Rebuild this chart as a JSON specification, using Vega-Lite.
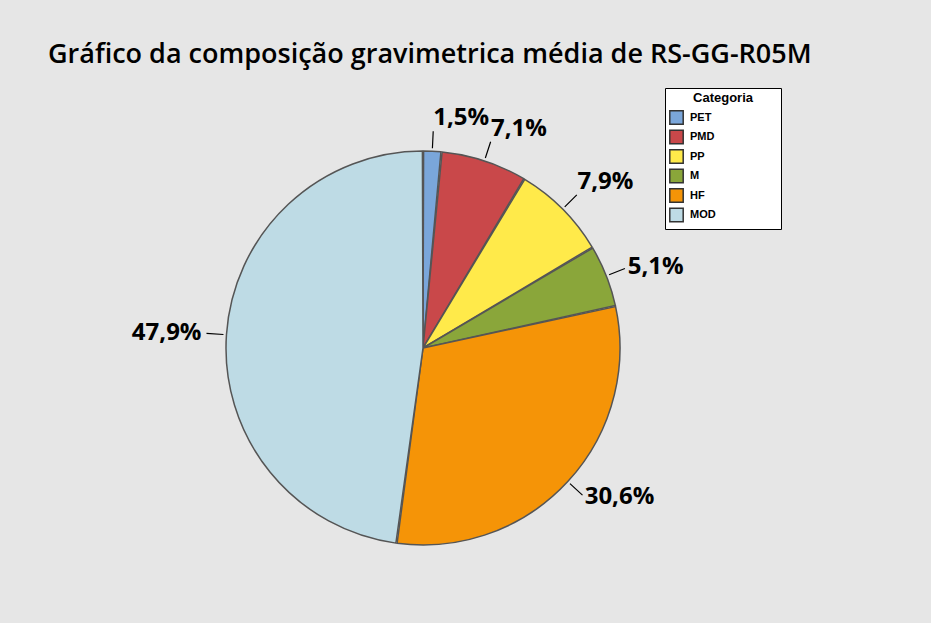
{
  "$schema": "https://vega.github.io/schema/vega-lite/v6.json",
  "width": 500,
  "height": 500,
  "autosize": {"type": "none"},
  "padding": {"left": 173, "top": 98, "right": 258, "bottom": 25},
  "background": "#e6e6e6",
  "title": {
    "text": "Gráfico da composição gravimetrica média de RS-GG-R05M",
    "anchor": "start",
    "frame": "group",
    "dx": -125,
    "offset": 19,
    "font": "Open Sans",
    "fontSize": 27,
    "fontWeight": 600,
    "color": "#000000"
  },
  "data": {
    "values": [
      {"category": "PET", "value": 1.5},
      {"category": "PMD", "value": 7.1},
      {"category": "PP", "value": 7.9},
      {"category": "M", "value": 5.1},
      {"category": "HF", "value": 30.6},
      {"category": "MOD", "value": 47.9}
    ]
  },
  "transform": [
    {"window": [{"op": "sum", "field": "value", "as": "cum"}], "frame": [null, 0]},
    {"calculate": "datum.cum - datum.value", "as": "start"},
    {"calculate": "datum.cum - datum.value / 2", "as": "mid"},
    {"calculate": "replace(format(datum.value, '.1f'), '.', ',') + '%'", "as": "label"}
  ],
  "layer": [
    {
      "mark": {"type": "arc", "outerRadius": 197, "stroke": "#555555", "strokeWidth": 1.5, "padAngle": 0.006},
      "encoding": {
        "theta": {"field": "start", "type": "quantitative", "stack": null, "scale": {"domain": [0, 100.1], "range": [0, 6.283185307179586]}},
        "theta2": {"field": "cum"},
        "color": {
          "field": "category",
          "type": "nominal",
          "sort": ["PET", "PMD", "PP", "M", "HF", "MOD"],
          "scale": {
            "domain": ["PET", "PMD", "PP", "M", "HF", "MOD"],
            "range": ["#7aa6da", "#c9484a", "#ffea4a", "#8aa63a", "#f59407", "#bedbe5"]
          },
          "legend": {
            "title": "Categoria",
            "orient": "none",
            "legendX": 492,
            "legendY": -10,
            "fillColor": "#ffffff",
            "strokeColor": "#000000",
            "padding": 4,
            "titleFont": "Liberation Sans",
            "titleFontSize": 13,
            "titleFontWeight": "bold",
            "titleColor": "#000000",
            "titleAnchor": "middle",
            "titlePadding": 5,
            "labelFont": "Liberation Sans",
            "labelFontSize": 11,
            "labelFontWeight": "bold",
            "labelColor": "#000000",
            "labelOffset": 6,
            "symbolType": "square",
            "symbolSize": 180,
            "symbolStrokeColor": "#333333",
            "symbolStrokeWidth": 1.5,
            "rowPadding": -1.5,
            "labelExpr": "datum.label + '\u00a0\u00a0\u00a0\u00a0\u00a0\u00a0\u00a0\u00a0\u00a0\u00a0\u00a0\u00a0\u00a0\u00a0\u00a0\u00a0\u00a0\u00a0\u00a0\u00a0\u200b'"
          }
        }
      }
    },
    {
      "mark": {"type": "arc", "outerRadius": 217, "innerRadius": 200, "stroke": "#000000", "strokeWidth": 1.2, "fill": null},
      "encoding": {
        "theta": {"field": "mid", "type": "quantitative", "stack": null},
        "theta2": {"field": "mid"}
      }
    },
    {
      "transform": [{"filter": "datum.mid < 15"}],
      "mark": {"type": "text", "radius": 218, "align": "left", "baseline": "bottom", "font": "Open Sans", "fontSize": 24, "fontWeight": "bold", "color": "#000000"},
      "encoding": {
        "theta": {"field": "mid", "type": "quantitative", "stack": null},
        "text": {"field": "label"}
      }
    },
    {
      "transform": [{"filter": "datum.mid >= 15 && datum.mid < 50"}],
      "mark": {"type": "text", "radius": 220, "align": "left", "baseline": "middle", "font": "Open Sans", "fontSize": 24, "fontWeight": "bold", "color": "#000000"},
      "encoding": {
        "theta": {"field": "mid", "type": "quantitative", "stack": null},
        "text": {"field": "label"}
      }
    },
    {
      "transform": [{"filter": "datum.mid >= 50"}],
      "mark": {"type": "text", "radius": 220, "align": "right", "baseline": "middle", "dx": -2, "font": "Open Sans", "fontSize": 24, "fontWeight": "bold", "color": "#000000"},
      "encoding": {
        "theta": {"field": "mid", "type": "quantitative", "stack": null},
        "text": {"field": "label"}
      }
    }
  ],
  "config": {"view": {"stroke": null}}
}
